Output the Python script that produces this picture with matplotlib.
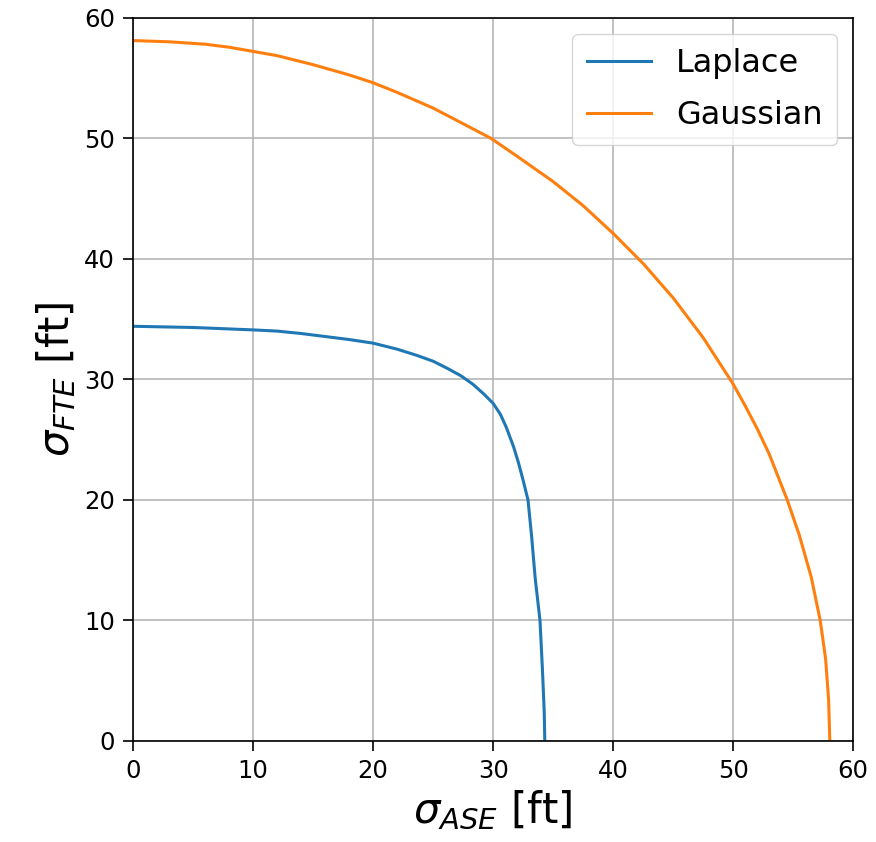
import matplotlib
matplotlib.use("Agg")
import matplotlib.pyplot as plt

# sigma_ASE (x) vs sigma_FTE (y)
laplace_x = [0, 5, 10, 12, 14, 16, 18, 20, 22, 23.6, 25, 26.2, 27.3, 28.3, 29.2, 30.0, 30.6, 31.1,
             31.7, 32.1, 32.5, 32.9, 33.2, 33.5, 33.9, 34.1, 34.25, 34.3]
laplace_y = [34.4, 34.3, 34.1, 34.0, 33.8, 33.55, 33.3, 33.0, 32.5, 32.0, 31.5, 30.9, 30.3, 29.6, 28.8, 28.0,
             27.1, 26.0, 24.4, 23.1, 21.6, 20.0, 17.0, 13.5, 10.0, 6.0, 2.5, 0.0]

gauss_x = [0, 3, 6, 8, 10, 12, 15, 18, 20, 22, 25, 27.5, 29.8, 32, 35, 37.5, 40, 42.5,
           45, 47.5, 50, 51, 52, 53, 54.5, 55.5, 56.5, 57.25, 57.7, 57.95, 58.05]
gauss_y = [58.1, 58.0, 57.8, 57.55, 57.2, 56.85, 56.1, 55.25, 54.6, 53.8, 52.5, 51.2, 50.0, 48.5, 46.4, 44.4,
           42.1, 39.6, 36.75, 33.45, 29.6, 27.8, 25.9, 23.8, 20.0, 17.1, 13.6, 10.0, 6.8, 3.4, 0.0]

fig = plt.figure(figsize=(8.76, 8.42), dpi=100)
ax = fig.add_axes([0.152, 0.12, 0.822, 0.859])

ax.plot(laplace_x, laplace_y, color="#1f77b4", lw=2.2, label="Laplace")
ax.plot(gauss_x, gauss_y, color="#ff7f0e", lw=2.2, label="Gaussian")

ax.set_xlim(0, 60)
ax.set_ylim(0, 60)
ax.grid(True, color="#b0b0b0", lw=1.1)
ax.tick_params(labelsize=17.5, length=7, width=1.2, pad=6)
for s in ax.spines.values():
    s.set_linewidth(1.2)

ax.set_xlabel(r"$\sigma_{ASE}$ [ft]", fontsize=30)
ax.set_ylabel(r"$\sigma_{FTE}$ [ft]", fontsize=30)
ax.legend(fontsize=23, loc="upper right", handlelength=2.0,
          labelspacing=0.65, borderpad=0.45)

fig.savefig("out.png", dpi=100)
